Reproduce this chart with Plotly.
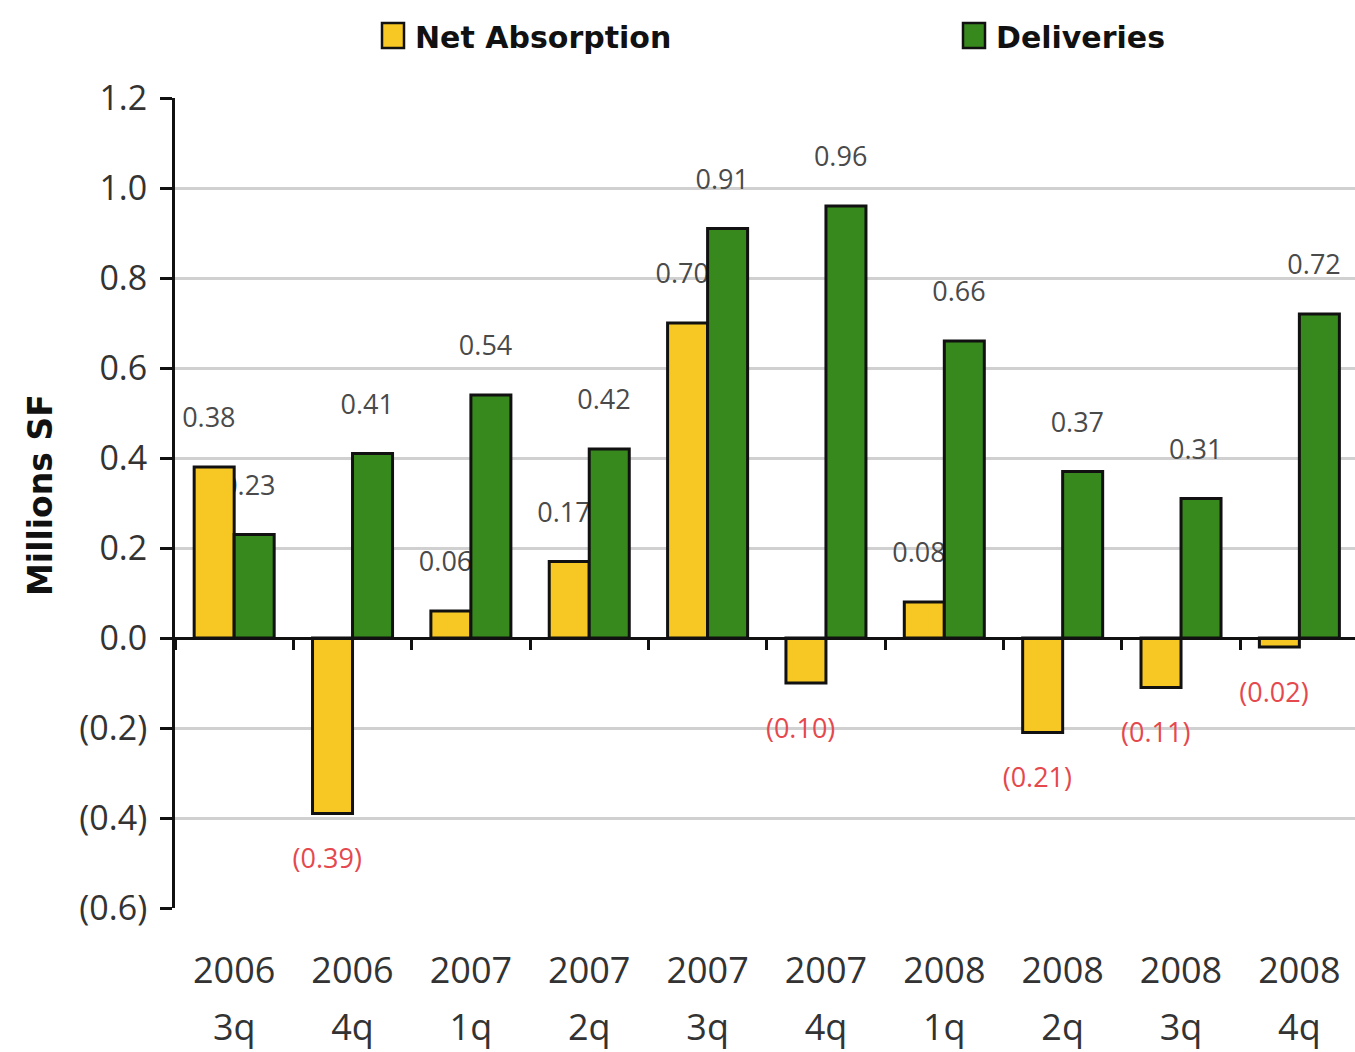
import plotly.graph_objects as go

# Quarterly office market figures (millions of square feet)
period_years = ["2006", "2006", "2007", "2007", "2007", "2007", "2008", "2008", "2008", "2008"]
period_quarters = ["3q", "4q", "1q", "2q", "3q", "4q", "1q", "2q", "3q", "4q"]
net_absorption = [0.38, -0.39, 0.06, 0.17, 0.70, -0.10, 0.08, -0.21, -0.11, -0.02]
deliveries = [0.23, 0.41, 0.54, 0.42, 0.91, 0.96, 0.66, 0.37, 0.31, 0.72]
y_tick_values = [-0.6, -0.4, -0.2, 0.0, 0.2, 0.4, 0.6, 0.8, 1.0, 1.2]
y_tick_labels = ["(0.6)", "(0.4)", "(0.2)", "0.0", "0.2", "0.4", "0.6", "0.8", "1.0", "1.2"]

YELLOW = "#F7C824"
GREEN = "#37891D"
LABEL_GREY = "#4a4a4a"
LABEL_RED = "#E5484D"
FONT = "Open Sans"
BOLD_FONT = "DejaVu Sans"

W, H = 1355, 1052
M_L, M_R, M_T, M_B = 175, 0, 98, 144
Y_MIN, Y_MAX = -0.6, 1.2

keys = [f"{y} {q}" for y, q in zip(period_years, period_quarters)]

BAR_W = 0.338          # width of one bar in category units
LABEL_SHIFT = 0.045    # labels sit slightly left of their bar
PAD_UP = 0.064         # gap between a positive bar's top and its label
PAD_DOWN = 0.05        # gap between a negative bar's bottom and its label


def fmt(v):
    return f"({abs(v):.2f})" if v < 0 else f"{v:.2f}"


def label_bar(values, offset):
    # transparent bars reaching a little past each value carry the labels
    return go.Bar(
        x=keys,
        y=[v + PAD_UP if v >= 0 else v - PAD_DOWN for v in values],
        width=BAR_W, offset=offset - LABEL_SHIFT,
        marker=dict(color="rgba(0,0,0,0)", line=dict(width=0)),
        text=[fmt(v) for v in values],
        textposition="outside", textangle=0, constraintext="none",
        outsidetextfont=dict(family=FONT, size=27,
                             color=[LABEL_RED if v < 0 else LABEL_GREY for v in values]),
        cliponaxis=False, showlegend=False, hoverinfo="skip",
    )


fig = go.Figure()
fig.add_trace(label_bar(net_absorption, -BAR_W))
fig.add_trace(label_bar(deliveries, 0.0))
fig.add_trace(go.Bar(
    x=keys, y=net_absorption, name="Net Absorption",
    width=BAR_W, offset=-BAR_W,
    marker=dict(color=YELLOW, line=dict(color="#111111", width=3)),
    showlegend=False,
))
fig.add_trace(go.Bar(
    x=keys, y=deliveries, name="Deliveries",
    width=BAR_W, offset=0.0,
    marker=dict(color=GREEN, line=dict(color="#111111", width=3)),
    showlegend=False,
))
# carriers for the two rows of category labels
for ax in ("x2", "x3"):
    fig.add_trace(go.Scatter(x=keys, y=[0] * len(keys), xaxis=ax, mode="none",
                             showlegend=False, hoverinfo="skip"))

plot_w = W - M_L - M_R
plot_h = H - M_T - M_B
x_range = [-0.5, len(keys) - 0.5 - 0.03]
zero_pos = (0 - Y_MIN) / (Y_MAX - Y_MIN)


def px_x(p):
    return (p - M_L) / plot_w


def px_y(p):
    return (H - M_B - p) / plot_h


common_x = dict(type="category", categoryarray=keys, range=x_range,
                showgrid=False, zeroline=False, fixedrange=True)

fig.update_layout(
    width=W, height=H,
    margin=dict(l=M_L, r=M_R, t=M_T, b=M_B, autoexpand=False),
    paper_bgcolor="white", plot_bgcolor="white",
    barmode="overlay",
    font=dict(family=FONT, color="#333333"),
    xaxis=dict(
        **common_x, anchor="free", position=zero_pos,
        showline=True, linecolor="#111111", linewidth=3,
        ticks="outside", tickson="boundaries", ticklen=10, tickwidth=3, tickcolor="#111111",
        showticklabels=False,
    ),
    xaxis2=dict(
        **common_x, overlaying="x", anchor="free", position=zero_pos,
        showline=False, ticks="", tickmode="array", tickvals=keys, ticktext=period_years,
        tickfont=dict(family=FONT, size=36, color="#333333"),
        ticklabelstandoff=308,
    ),
    xaxis3=dict(
        **common_x, overlaying="x", anchor="free", position=zero_pos,
        showline=False, ticks="", tickmode="array", tickvals=keys, ticktext=period_quarters,
        tickfont=dict(family=FONT, size=36, color="#333333"),
        ticklabelstandoff=365,
    ),
    yaxis=dict(
        range=[Y_MIN, Y_MAX], tickmode="array", tickvals=y_tick_values, ticktext=y_tick_labels,
        showgrid=True, gridcolor="#d0d0d0", gridwidth=3, zeroline=False,
        showline=True, linecolor="#111111", linewidth=3,
        ticks="outside", ticklen=12, tickwidth=3, tickcolor="#111111",
        tickfont=dict(family=FONT, size=34, color="#333333"),
        ticklabelstandoff=6,
        automargin=False, fixedrange=True,
    ),
)

# vertical axis title
fig.add_annotation(text="<b>Millions SF</b>", xref="paper", yref="paper",
                   x=px_x(40), y=px_y(495), xanchor="center", yanchor="middle",
                   textangle=-90, showarrow=False,
                   font=dict(family=BOLD_FONT, size=33, color="#111111"))

# legend drawn as swatches with bold captions above the plot
legend_items = [("Net Absorption", YELLOW, 382), ("Deliveries", GREEN, 963)]
for text, color, left in legend_items:
    fig.add_shape(type="rect", xref="paper", yref="paper",
                  x0=px_x(left), x1=px_x(left + 22), y0=px_y(48), y1=px_y(23),
                  fillcolor=color, line=dict(color="#111111", width=2.5))
    fig.add_annotation(text=f"<b>{text}</b>", xref="paper", yref="paper",
                       x=px_x(left + 31), y=px_y(37), xanchor="left", yanchor="middle",
                       showarrow=False, font=dict(family=BOLD_FONT, size=30, color="#111111"))

fig.write_html("out.html")
